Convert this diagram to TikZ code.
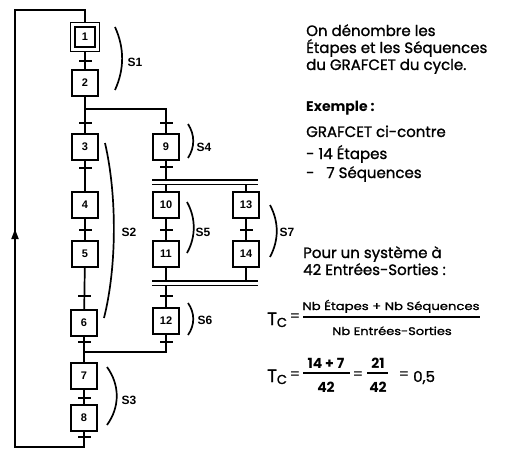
\documentclass[tikz,border=0pt]{standalone}
\usepackage{fontspec}
\setmainfont{Poppins}
\newfontfamily\numfont{Liberation Sans}
\newfontfamily\txtfont{Poppins}[FakeBold=1.2]
\usetikzlibrary{arrows.meta}
\begin{document}
\begin{tikzpicture}[x=1pt,y=-1pt,
  stepbox/.style={draw, line width=1.6pt, minimum size=26pt, inner sep=0pt, font=\numfont\bfseries\fontsize{11}{11}\selectfont},
  trbar/.style={fill=black, minimum width=13pt, minimum height=2.8pt, inner sep=0pt},
  link/.style={line width=1.7pt},
  dbl/.style={line width=1.6pt},
  seqlabel/.style={font=\numfont\bfseries\fontsize{12}{12}\selectfont},
  seqbrace/.style={line width=1.7pt},
  txt/.style={anchor=base west, inner sep=0pt, font=\txtfont\fontsize{15}{15}\selectfont},
  small/.style={inner sep=0pt, font=\txtfont\fontsize{11}{11}\selectfont},
  fig/.style={inner sep=0pt, anchor=base, font=\bfseries\fontsize{14}{14}\selectfont},
  fbar/.style={line width=1.6pt}
]
\useasboundingbox[fill=white] (0,0) rectangle (513,449);

% steps
\node[stepbox, minimum size=29pt] (s1) at (85,37) {};
\node[stepbox, minimum size=20pt] (s1i) at (85,37) {1};
\node[stepbox] (s2) at (85,83) {2};
\node[stepbox] (s3) at (85,147) {3};
\node[stepbox] (s4) at (85,205) {4};
\node[stepbox] (s5) at (85,254) {5};
\node[stepbox] (s6) at (84,323) {6};
\node[stepbox] (s7) at (84,376) {7};
\node[stepbox] (s8) at (84,418) {8};
\node[stepbox] (s9) at (166,147) {9};
\node[stepbox] (s10) at (166,205) {10};
\node[stepbox] (s11) at (166,254) {11};
\node[stepbox] (s12) at (166,321) {12};
\node[stepbox] (s13) at (246,205) {13};
\node[stepbox] (s14) at (246,254) {14};

% junction coordinates
\coordinate (j2) at (85,109);
\coordinate (j6) at (84,352);
\coordinate (j12) at (166,352);
\coordinate (dv1L) at (152,180); \coordinate (dv1R) at (258,180);
\coordinate (dv2L) at (152,184.5); \coordinate (dv2R) at (258,184.5);
\coordinate (cv1L) at (152,281); \coordinate (cv1R) at (258,281);
\coordinate (cv2L) at (152,285.5); \coordinate (cv2R) at (258,285.5);
\coordinate (b8) at (84,447);
\coordinate (lb) at (15,447);
\coordinate (lt) at (15,10);
\coordinate (tt) at (85,10);
\coordinate (arrB) at (15,245);
\coordinate (arrT) at (15,229);

% links
\draw[link] (s1) -- (s2);
\draw[link] (s2) -- (s3);
\draw[link] (j2) -| (s9);
\draw[link] (s3) -- (s4);
\draw[link] (s4) -- (s5);
\draw[link] (s5) -- (s6);
\draw[link] (s6) -- (s7);
\draw[link] (s7) -- (s8);
\draw[link] (s9) -- (s9 |- dv1L);
\draw[dbl] (dv1L) -- (dv1R);
\draw[dbl] (dv2L) -- (dv2R);
\draw[link] (s10 |- dv2L) -- (s10);
\draw[link] (s13 |- dv2L) -- (s13);
\draw[link] (s10) -- (s11);
\draw[link] (s13) -- (s14);
\draw[link] (s11) -- (s11 |- cv1L);
\draw[link] (s14) -- (s14 |- cv1L);
\draw[dbl] (cv1L) -- (cv1R);
\draw[dbl] (cv2L) -- (cv2R);
\draw[link] (s12 |- cv2L) -- (s12);
\draw[link] (s12) -- (j12) -- (j6);
\draw[link] (s8) -- (b8) -- (lb) -- (lt) -- (tt) -- (s1);
\draw[link, -{Triangle[length=10pt,width=7pt]}] (arrB) -- (arrT);

% transitions
\node[trbar] (t12) at (85,61) {};
\node[trbar] (t23) at (85,123) {};
\node[trbar] (t29) at (166,123) {};
\node[trbar] (t34) at (85,168) {};
\node[trbar] (t45) at (85,230) {};
\node[trbar] (t56) at (84,296) {};
\node[trbar] (t9) at (166,167) {};
\node[trbar] (t1011) at (166,230) {};
\node[trbar] (t1314) at (246,230) {};
\node[trbar] (t12in) at (166,296) {};
\node[trbar] (t6) at (84,342) {};
\node[trbar] (t12out) at (166,342) {};
\node[trbar] (t78) at (84,398) {};
\node[trbar] (t8) at (84,437) {};

% sequence brackets
\draw[seqbrace] (115,27) .. controls (124.5,48) and (124.5,69) .. (115,90);
\node[seqlabel] (l1) at (135,62) {S1};
\draw[seqbrace] (105,143) .. controls (117,195) and (117,266) .. (104,318);
\node[seqlabel] (l2) at (129,232) {S2};
\draw[seqbrace] (107,367) .. controls (120,385) and (120,407) .. (107,425);
\node[seqlabel] (l3) at (129,400) {S3};
\draw[seqbrace] (188,124) .. controls (195,135) and (195,147) .. (188,158);
\node[seqlabel] (l4) at (204,147) {S4};
\draw[seqbrace] (187,202) .. controls (196,218) and (196,237) .. (187,253);
\node[seqlabel] (l5) at (203,232) {S5};
\draw[seqbrace] (188,303) .. controls (195,313) and (195,325) .. (188,335);
\node[seqlabel] (l6) at (205,320) {S6};
\draw[seqbrace] (270,205) .. controls (279,222) and (279,240) .. (270,257);
\node[seqlabel] (l7) at (287,232) {S7};

% right-hand text
\node[txt] (p1) at (306,36) {On dénombre les};
\node[txt] (p2) at (306,53) {Étapes et les Séquences};
\node[txt] (p3) at (306,70) {du GRAFCET du cycle.};
\node[txt, font=\bfseries\fontsize{14}{14}\selectfont] (p4) at (306,112) {Exemple :};
\node[txt] (p5) at (306,137) {GRAFCET ci-contre};
\node[txt] (p6) at (306,159) {- 14 Étapes};
\node[txt] (p7) at (306,178) {-\ \ \ 7 Séquences};
\node[txt] (p8) at (303,258) {Pour un système à};
\node[txt] (p9) at (303,275) {42 Entrées-Sorties :};

% formulas
\node[txt, font=\txtfont\fontsize{18}{18}\selectfont] (tc1) at (267,325) {T\raisebox{-2pt}{\fontsize{13}{13}\selectfont C}};
\node[inner sep=0pt, font=\fontsize{15}{15}\selectfont] (eq1) at (295,318) {=};
\node[small, anchor=base] (n1) at (391,310) {\scalebox{1.2}[1]{Nb Étapes + Nb Séquences}};
\draw[fbar] (303,317) -- (480,317);
\node[small, anchor=base] (d1) at (392,335) {\scalebox{1.18}[1]{Nb Entrées-Sorties}};

\node[txt, font=\txtfont\fontsize{18}{18}\selectfont] (tc2) at (267,382) {T\raisebox{-2pt}{\fontsize{13}{13}\selectfont C}};
\node[inner sep=0pt, font=\fontsize{15}{15}\selectfont] (eq2) at (295,376) {=};
\node[fig] (n2) at (326,368) {14 + 7};
\draw[fbar] (303,373) -- (350,373);
\node[fig] (d2) at (326,392) {42};
\node[inner sep=0pt, font=\fontsize{15}{15}\selectfont] (eq3) at (358,376) {=};
\node[fig] (n3) at (378,368) {21};
\draw[fbar] (367,373) -- (388,373);
\node[fig] (d3) at (378,392) {42};
\node[inner sep=0pt, font=\fontsize{15}{15}\selectfont] (eq4) at (404,376) {=};
\node[txt] (r2) at (413,382) {0,5};
\end{tikzpicture}
\end{document}
